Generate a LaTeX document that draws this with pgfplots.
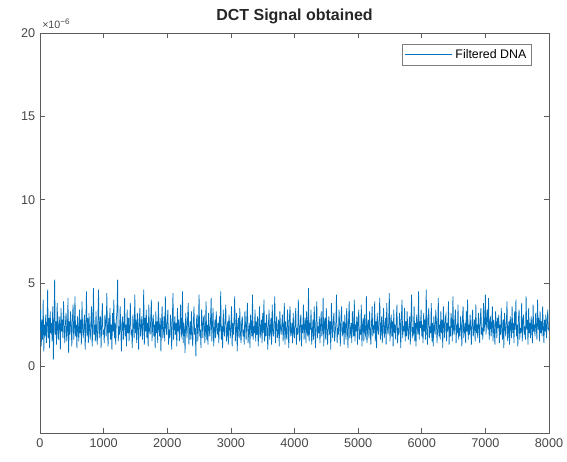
\documentclass[border=0pt]{standalone}
\usepackage{pgfplots}
\pgfplotsset{compat=1.18}
\usepackage{fontspec}
\setmainfont{Liberation Sans}
\definecolor{mblue}{rgb}{0,0.447,0.741}
\definecolor{axgray}{rgb}{0.15,0.15,0.15}
\begin{document}
\begin{tikzpicture}
\begin{axis}[
  scale only axis,
  width=381.75pt, height=300pt,
  xmin=0, xmax=8000, ymin=-4, ymax=20,
  xtick={0,1000,...,8000}, ytick={0,5,10,15,20},
  scaled ticks=false,
  /pgf/number format/set thousands separator={},
  /pgf/number format/assume math mode=true,
  tick align=inside, tick pos=both,
  major tick length=3.5pt,
  axis line style={axgray!75, line width=0.5pt},
  every tick/.style={axgray!75, line width=0.5pt},
  tick label style={font=\fontsize{9.5}{11}\selectfont, text=axgray!85},
  xticklabel style={yshift=-1pt},
  title={\textbf{DCT Signal obtained}},
  title style={font=\fontsize{12}{14}\selectfont, text=axgray, yshift=-3pt},
  legend style={at={(rel axis cs:1,1)}, anchor=north east, xshift=-12.75pt, yshift=-8pt,
    font=\fontsize{9.3}{10}\selectfont, draw=axgray!60, line width=0.4pt, inner sep=2pt},
  legend cell align=left,
  legend image code/.code={\draw[mblue, line width=0.6pt] (-0.1cm,0cm) -- (1.15cm,0cm);},
  clip=true,
]
\addplot[color=mblue, line width=0.55pt] table[x expr=\coordindex*10, y index=0, header=false] {
2.1
3.4
1.2
2.8
1.6
4.0
0.9
2.5
1.8
3.1
1.4
2.2
4.6
1.7
2.9
1.1
3.3
2.0
2.6
1.5
3.6
0.4
2.4
5.2
1.9
2.7
1.3
3.8
2.2
1.6
3.0
2.5
1.0
3.5
2.1
2.8
1.7
3.9
2.3
1.4
2.6
3.2
1.5
2.0
4.1
0.8
2.7
1.9
3.3
2.4
1.2
2.9
3.7
1.6
2.2
4.2
1.8
2.5
1.1
3.0
2.3
1.5
3.4
2.0
2.8
1.3
3.9
2.2
1.7
2.6
3.1
1.0
2.4
4.5
1.8
2.9
1.4
3.2
2.1
1.6
2.7
3.6
1.2
2.3
4.7
1.9
2.5
1.5
3.3
2.0
1.3
2.8
4.6
1.7
2.4
3.0
1.1
2.6
3.8
1.9
2.2
1.4
3.1
2.7
1.8
4.4
2.3
1.2
2.9
2.0
3.5
1.6
2.5
1.0
3.2
2.1
4.0
1.7
2.6
1.3
2.8
3.3
5.2
1.5
2.4
1.9
3.6
2.2
0.9
2.7
3.0
1.6
2.3
4.1
1.8
2.5
1.2
3.4
2.0
2.9
1.5
2.6
3.8
1.9
2.2
1.1
3.1
2.4
1.7
4.3
2.0
2.8
1.4
3.2
2.5
1.0
2.7
3.5
1.8
2.3
3.0
1.6
2.4
4.6
1.3
2.9
2.1
3.4
1.7
2.6
1.2
3.7
2.2
1.9
2.8
4.0
1.5
2.4
3.1
1.8
2.5
1.1
3.3
2.0
2.7
1.4
3.9
2.3
1.8
2.9
0.9
2.6
3.6
1.7
2.1
3.0
1.5
4.2
2.4
1.9
2.7
3.4
1.3
2.2
1.7
3.1
2.5
1.0
2.8
4.4
1.6
2.3
3.0
1.9
2.6
1.2
3.5
2.1
2.8
1.5
2.4
3.7
1.8
2.0
4.5
1.4
2.6
2.2
0.8
3.2
2.5
1.7
2.9
3.8
1.3
2.1
2.7
1.6
3.3
2.0
1.2
2.5
3.6
1.9
2.3
0.6
2.8
3.1
1.5
2.4
4.3
1.8
2.2
1.1
3.4
2.6
1.7
2.9
3.0
1.4
2.1
3.9
1.6
2.5
1.3
3.2
2.2
1.8
2.7
4.1
1.5
2.4
3.5
1.2
2.0
2.8
1.7
3.3
2.3
1.9
2.6
1.4
3.0
2.1
4.5
1.6
2.4
1.1
3.4
2.2
1.8
2.9
3.7
1.5
2.0
2.7
1.3
3.1
2.5
1.7
2.3
3.6
1.2
2.6
1.9
2.8
4.2
1.5
2.1
3.2
0.9
2.4
2.9
1.7
3.5
2.0
1.4
2.7
3.0
1.8
2.2
1.3
3.3
2.5
1.6
2.9
3.8
1.4
2.1
2.6
1.1
3.1
2.3
1.8
4.3
1.6
2.4
2.0
3.4
1.5
2.7
1.9
3.0
1.2
2.4
3.6
1.7
2.2
2.8
1.4
3.2
2.0
4.0
1.5
2.6
1.8
3.1
2.3
1.0
2.5
3.4
1.6
2.2
2.9
1.3
3.7
2.1
1.8
2.6
4.2
1.4
2.4
3.0
1.7
2.0
2.8
1.2
3.3
2.3
1.9
2.5
3.1
1.5
2.2
3.8
1.3
2.7
2.0
1.6
3.4
2.4
1.1
2.9
3.6
1.8
2.1
2.6
1.4
3.2
2.0
1.7
2.8
3.5
1.3
2.3
1.9
4.0
2.2
1.5
2.7
3.1
1.2
2.5
2.0
3.7
1.6
2.4
2.9
1.4
3.3
2.1
1.8
4.7
1.5
2.6
2.2
3.4
1.3
2.0
2.8
1.6
3.6
2.3
1.1
2.7
3.9
1.7
2.4
2.0
3.0
1.4
2.5
3.3
1.8
2.2
4.1
1.2
2.6
2.9
1.6
3.5
2.1
1.3
2.4
3.0
1.9
2.7
1.0
3.8
2.3
1.7
2.8
3.2
1.5
2.0
2.6
4.3
1.4
2.3
1.9
3.4
2.5
1.2
2.9
3.6
1.8
2.1
2.7
1.3
3.1
2.2
1.6
3.5
2.4
1.1
2.8
3.9
1.7
2.0
2.6
1.4
3.3
2.3
1.8
4.0
1.5
2.5
2.1
3.0
1.3
2.7
3.4
1.6
2.2
1.9
3.7
1.2
2.5
2.9
1.5
3.1
2.0
1.8
4.2
1.4
2.4
2.8
1.7
3.3
2.1
1.3
2.6
3.6
1.8
2.3
2.0
3.9
1.5
2.7
1.1
3.2
2.4
1.9
2.8
4.1
1.6
2.2
3.0
1.4
2.5
3.5
1.7
2.1
2.9
1.3
3.8
2.3
1.9
2.6
4.4
1.5
2.2
3.1
1.8
2.7
1.2
3.4
2.0
2.5
1.6
2.8
3.7
1.4
2.3
1.9
3.2
2.6
1.1
2.9
4.0
1.7
2.4
2.1
3.5
1.5
2.7
1.8
3.3
2.2
1.6
2.5
3.0
1.3
2.8
4.3
1.7
2.2
2.0
3.6
1.5
2.6
1.2
3.1
2.4
1.9
4.5
1.6
2.7
2.3
3.4
1.8
2.5
1.4
3.2
2.1
2.8
1.6
4.6
2.3
1.3
2.9
3.5
1.7
2.4
2.0
3.8
1.5
2.6
1.2
3.0
2.2
1.9
3.4
2.7
1.4
2.3
4.1
1.8
2.5
1.6
3.3
2.0
2.8
1.1
3.6
2.4
1.7
2.9
3.1
1.5
2.6
2.1
3.9
1.3
2.4
1.8
3.2
2.7
1.5
4.2
2.2
1.9
2.8
3.4
1.4
2.5
2.0
3.7
1.6
2.3
1.8
3.0
2.4
1.2
2.9
3.6
1.7
2.2
2.6
1.4
3.3
2.1
4.0
1.6
2.5
1.9
3.1
2.3
1.3
2.7
3.4
1.8
2.2
2.8
1.5
3.7
2.0
2.5
1.7
3.2
2.4
1.4
2.9
3.5
1.9
2.3
1.6
3.8
2.1
2.6
4.3
1.9
2.7
3.4
2.2
4.1
1.6
2.5
3.0
1.8
2.4
3.6
1.5
2.8
2.1
1.3
3.3
2.6
1.7
2.9
2.3
3.1
1.4
2.5
1.9
3.5
2.2
1.6
2.8
1.1
3.2
2.4
1.8
2.6
3.9
1.5
2.1
2.7
1.3
3.0
2.4
1.7
3.6
2.0
2.6
1.4
3.3
2.2
4.0
1.8
2.5
1.2
2.9
3.4
1.6
2.3
2.0
3.8
1.5
2.7
3.1
1.9
2.4
1.6
4.2
2.2
2.8
1.3
3.5
2.0
2.6
1.7
3.0
2.3
1.4
3.7
2.1
2.5
1.8
3.2
2.4
1.6
4.0
2.2
2.9
1.5
3.3
2.0
2.7
1.8
3.6
2.3
1.4
2.8
2.1
3.1
1.7
2.5
3.4
2.2
2.3
};
\addlegendentry{Filtered DNA}
\end{axis}
\node[anchor=south west, font=\fontsize{8}{9}\selectfont, text=axgray!85, inner sep=0pt]
  at ([xshift=1.5pt, yshift=3pt]current axis.north west) {×10\textsuperscript{−6}};
\pgfresetboundingbox
\useasboundingbox ([xshift=-30pt, yshift=-21pt]current axis.south west) rectangle ([xshift=13.5pt, yshift=24.75pt]current axis.north east);
\end{tikzpicture}
\end{document}
